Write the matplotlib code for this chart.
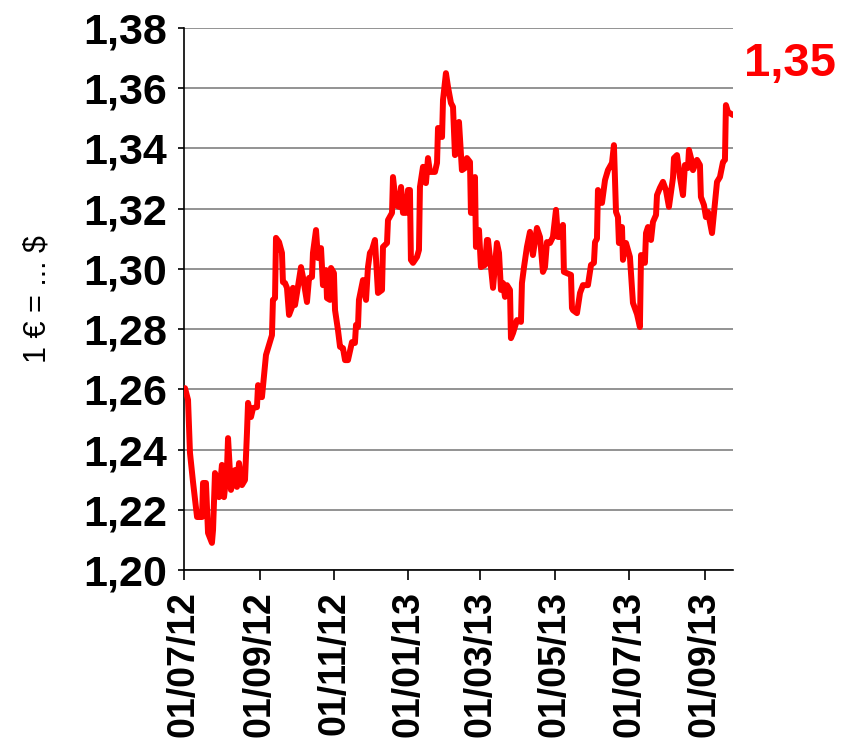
import matplotlib
matplotlib.use("Agg")
import matplotlib.pyplot as plt
import matplotlib.dates as mdates
import pandas as pd
import numpy as np

plt.rcParams['font.family'] = ['Liberation Sans', 'DejaVu Sans']

start_date = "2012-07-01"
# days since 01/07/2012
day_offset = [0.8, 3.3, 4.9, 7.4, 10.7, 14.8, 15.6, 18.0, 19.7, 22.9, 23.8, 25.4, 27.0, 28.7,
              31.1, 32.8, 35.2, 36.1, 38.5, 41.8, 43.4, 45.1, 47.5, 50.0, 51.6, 52.5, 54.9,
              56.6, 59.8, 60.7, 63.9, 67.2, 72.1, 72.9, 74.6, 75.4, 77.9, 80.3, 81.1, 82.8,
              84.4, 86.1, 88.5, 89.3, 91.0, 92.6, 95.9, 97.5, 100.8, 102.5, 104.9, 105.7,
              108.2, 109.8, 112.3, 113.9, 116.4, 117.2, 119.7, 120.5, 122.9, 123.8, 126.2,
              127.9, 130.3, 132.0, 134.4, 137.7, 140.1, 141.0, 142.6, 143.4, 146.7, 149.2,
              150.8, 152.4, 154.1, 156.5, 159.0, 162.3, 163.1, 166.4, 167.2, 170.5, 171.3,
              173.8, 176.2, 177.9, 179.5, 182.0, 183.6, 185.2, 186.0, 187.7, 191.0, 192.6,
              193.4, 195.9, 198.3, 200.0, 201.6, 205.7, 207.4, 208.2, 209.8, 211.5, 212.3,
              214.7, 216.4, 218.8, 220.5, 222.1, 223.8, 225.4, 227.8, 230.3, 231.9, 234.4,
              235.2, 236.9, 238.5, 239.3, 241.8, 243.4, 246.7, 248.3, 249.2, 251.6, 253.3,
              256.5, 258.2, 259.8, 261.5, 263.1, 264.7, 267.2, 268.0, 269.7, 272.9, 276.2,
              277.0, 278.7, 281.1, 283.6, 286.0, 289.3, 291.8, 294.2, 295.9, 297.5, 300.0,
              302.4, 304.9, 306.5, 309.0, 310.6, 311.4, 317.2, 318.0, 318.8, 322.1, 324.6,
              327.0, 331.1, 333.6, 336.0, 336.9, 338.5, 339.3, 342.6, 345.1, 347.5, 350.8,
              352.4, 354.1, 355.7, 356.5, 359.0, 359.8, 362.3, 365.5, 368.0, 371.3, 373.7,
              374.6, 377.8, 378.7, 380.3, 382.8, 384.4, 386.9, 387.7, 390.1, 392.6, 395.0,
              397.5, 400.8, 401.6, 404.1, 406.5, 409.0, 410.6, 413.1, 413.9, 416.4, 417.2,
              418.8, 420.5, 422.9, 423.7, 426.2, 427.8, 429.5, 432.8, 435.2, 436.9, 439.3,
              441.8, 443.4, 444.2, 445.9, 450.0]
eur_usd = [1.2604, 1.2565, 1.2389, 1.2292, 1.2176, 1.2176, 1.2289, 1.2289, 1.2123, 1.2090,
           1.2133, 1.2322, 1.2299, 1.2242, 1.2349, 1.2242, 1.2332, 1.2438, 1.2266, 1.2332,
           1.2276, 1.2355, 1.2282, 1.2299, 1.2455, 1.2555, 1.2508, 1.2538, 1.2541, 1.2614,
           1.2574, 1.2714, 1.2780, 1.2897, 1.2903, 1.3103, 1.3089, 1.3053, 1.2956, 1.2953,
           1.2937, 1.2847, 1.2873, 1.2937, 1.2880, 1.2920, 1.3006, 1.2973, 1.2890, 1.2970,
           1.2973, 1.3053, 1.3129, 1.3036, 1.3069, 1.2946, 1.2996, 1.2903, 1.2897, 1.3003,
           1.2986, 1.2863, 1.2797, 1.2741, 1.2737, 1.2697, 1.2697, 1.2757, 1.2754, 1.2814,
           1.2807, 1.2897, 1.2963, 1.2897, 1.3006, 1.3053, 1.3063, 1.3096, 1.2920, 1.2930,
           1.3073, 1.3086, 1.3162, 1.3186, 1.3305, 1.3212, 1.3206, 1.3272, 1.3186, 1.3186,
           1.3262, 1.3262, 1.3030, 1.3020, 1.3040, 1.3063, 1.3272, 1.3339, 1.3285, 1.3368,
           1.3322, 1.3322, 1.3352, 1.3468, 1.3445, 1.3438, 1.3561, 1.3650, 1.3604, 1.3551,
           1.3538, 1.3378, 1.3385, 1.3488, 1.3328, 1.3335, 1.3368, 1.3355, 1.3186, 1.3186,
           1.3305, 1.3073, 1.3129, 1.3006, 1.3013, 1.3096, 1.3096, 1.3006, 1.2937, 1.3086,
           1.3053, 1.2930, 1.2953, 1.2907, 1.2946, 1.2930, 1.2770, 1.2787, 1.2830, 1.2824,
           1.2953, 1.3006, 1.3073, 1.3123, 1.3046, 1.3136, 1.3106, 1.2990, 1.3006, 1.3089,
           1.3086, 1.3106, 1.3196, 1.3106, 1.3106, 1.3146, 1.2990, 1.2980, 1.2870, 1.2863,
           1.2853, 1.2920, 1.2946, 1.2946, 1.3013, 1.3020, 1.3089, 1.3100, 1.3262, 1.3219,
           1.3295, 1.3328, 1.3352, 1.3411, 1.3189, 1.3172, 1.3086, 1.3139, 1.3030, 1.3086,
           1.3040, 1.2887, 1.2850, 1.2807, 1.3046, 1.3020, 1.3119, 1.3139, 1.3096, 1.3156,
           1.3179, 1.3245, 1.3269, 1.3289, 1.3262, 1.3206, 1.3302, 1.3368, 1.3378, 1.3305,
           1.3245, 1.3345, 1.3335, 1.3395, 1.3355, 1.3328, 1.3345, 1.3362, 1.3345, 1.3239,
           1.3212, 1.3172, 1.3189, 1.3119, 1.3219, 1.3289, 1.3305, 1.3355, 1.3362, 1.3544,
           1.3521, 1.3511]

y_ticks = [1.20, 1.22, 1.24, 1.26, 1.28, 1.30, 1.32, 1.34, 1.36, 1.38]
last_label = "1,35"
y_label = "1 € = ... $"

dates = pd.Timestamp(start_date) + pd.to_timedelta(np.array(day_offset), unit="D")

fig = plt.figure(figsize=(8.45, 7.56), dpi=100)
ax = fig.add_axes([184/845, 1-570/756, (733-184)/845, (570-28)/756])

ax.plot(dates, eur_usd, color="#ff0000", lw=4.3, solid_joinstyle="round",
        solid_capstyle="round", zorder=3)

ax.set_xlim(pd.Timestamp(start_date), pd.Timestamp(start_date) + pd.Timedelta(days=450))
ax.set_ylim(1.20, 1.38)
ax.set_yticks(y_ticks)
ax.set_yticklabels([f"{v:.2f}".replace(".", ",") for v in y_ticks])
ax.yaxis.grid(True, color="#808080", lw=1.2, zorder=1)
ax.set_axisbelow(True)

ax.xaxis.set_major_locator(mdates.MonthLocator(bymonth=[1, 3, 5, 7, 9, 11], bymonthday=1))
ax.xaxis.set_major_formatter(mdates.DateFormatter("%d/%m/%y"))
ax.tick_params(axis="x", labelrotation=90, labelsize=27, length=7, width=1.2, pad=8)
ax.tick_params(axis="y", labelsize=31, length=4, width=1.2, pad=8)
for lab in ax.get_xticklabels() + ax.get_yticklabels():
    lab.set_fontweight("bold")

ax.spines["right"].set_visible(False)
ax.spines["top"].set_visible(False)
ax.spines["left"].set_linewidth(1.2)
ax.spines["bottom"].set_linewidth(1.2)

ax.set_ylabel(y_label, fontsize=22, labelpad=22)

fig.text(790/845, 1-64/756, last_label, color="#ff0000", fontsize=34, fontweight="bold",
         ha="center", va="center")

fig.savefig("out.png", dpi=100)
